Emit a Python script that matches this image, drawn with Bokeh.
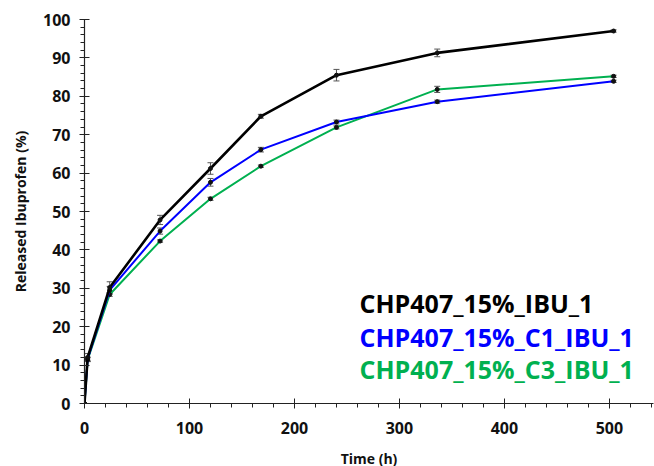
from bokeh.plotting import figure
from bokeh.models import ColumnDataSource, Whisker, Label, Range1d, FixedTicker
from bokeh.embed import file_html
from bokeh.resources import INLINE

time_h = [0, 3, 24, 72, 120, 168, 240, 336, 504]
ibu_1 = [0, 12.0, 30.2, 47.8, 61.2, 74.8, 85.5, 91.3, 97.0]
ibu_1_err = [0, 1.0, 1.5, 1.2, 1.5, 0.5, 1.5, 1.0, 0.3]
c1_ibu_1 = [0, 11.6, 29.5, 44.9, 57.6, 66.1, 73.3, 78.6, 83.9]
c1_ibu_1_err = [0, 0.5, 1.0, 0.8, 1.0, 0.6, 0.5, 0.4, 0.3]
c3_ibu_1 = [0, 11.4, 28.4, 42.3, 53.3, 61.8, 71.9, 81.8, 85.2]
c3_ibu_1_err = [0, 0.5, 0.5, 0.3, 0.4, 0.3, 0.4, 0.8, 0.3]

series = [
    ("CHP407_15%_IBU_1", ibu_1, ibu_1_err, "#000000", 2.6),
    ("CHP407_15%_C1_IBU_1", c1_ibu_1, c1_ibu_1_err, "#0000FF", 2.0),
    ("CHP407_15%_C3_IBU_1", c3_ibu_1, c3_ibu_1_err, "#00B050", 2.0),
]

FONT = "Open Sans"

p = figure(width=654, height=464, output_backend="svg", toolbar_location=None,
           x_range=Range1d(0, 542), y_range=Range1d(0, 100),
           frame_width=569, frame_height=384,
           min_border_left=84, min_border_right=1, min_border_top=19, min_border_bottom=61)
p.outline_line_color = None
p.xgrid.visible = False
p.ygrid.visible = False

for name, vals, err, col, lw in reversed(series):
    src = ColumnDataSource(dict(x=time_h, y=vals,
                                upper=[v + e for v, e in zip(vals, err)],
                                lower=[v - e for v, e in zip(vals, err)]))
    p.line("x", "y", source=src, line_color=col, line_width=lw)
    w = Whisker(base="x", upper="upper", lower="lower", source=src, dimension="height",
                line_color="#555555", line_width=1)
    w.upper_head.size = 6
    w.lower_head.size = 6
    w.upper_head.line_color = "#555555"
    w.lower_head.line_color = "#555555"
    p.add_layout(w)
    p.scatter("x", "y", source=src, size=4, color="#111111")

for ax in (p.xaxis[0], p.yaxis[0]):
    ax.axis_line_color = "#222222"
    ax.axis_line_width = 1.2
    ax.major_tick_line_color = "#222222"
    ax.minor_tick_line_color = "#222222"
    ax.major_label_text_font = FONT
    ax.major_label_text_font_style = "bold"
    ax.major_label_text_font_size = "16px"
    ax.major_label_text_color = "#111111"
    ax.axis_label_text_font = FONT
    ax.axis_label_text_font_style = "bold"
    ax.axis_label_text_font_size = "14px"
    ax.axis_label_text_color = "#111111"

p.xaxis.ticker = FixedTicker(ticks=[0, 100, 200, 300, 400, 500],
                             minor_ticks=[i * 20 for i in range(28)])
p.yaxis.ticker = FixedTicker(ticks=list(range(0, 101, 10)),
                             minor_ticks=list(range(0, 101, 2)))
p.xaxis.major_tick_out = 5
p.xaxis.major_tick_in = 5
p.xaxis.minor_tick_out = 4
p.xaxis.minor_tick_in = 0
p.xaxis.major_label_standoff = 13
p.xaxis.axis_label = "Time (h)"
p.xaxis.axis_label_standoff = 12

p.yaxis.major_tick_out = 5
p.yaxis.major_tick_in = 5
p.yaxis.minor_tick_out = 4
p.yaxis.minor_tick_in = 0
p.yaxis.major_label_standoff = 9
p.yaxis.axis_label = "Released Ibuprofen (%)"
p.yaxis.axis_label_standoff = 10

label_y = [26.3, 17.2, 8.9]
for (name, vals, err, col, lw), ly in zip(series, label_y):
    p.add_layout(Label(x=262, y=ly, text=name, text_color=col, text_font=FONT,
                       text_font_style="bold", text_font_size="25px",
                       text_baseline="middle"))

open("out.html", "w").write(file_html(p, INLINE))
